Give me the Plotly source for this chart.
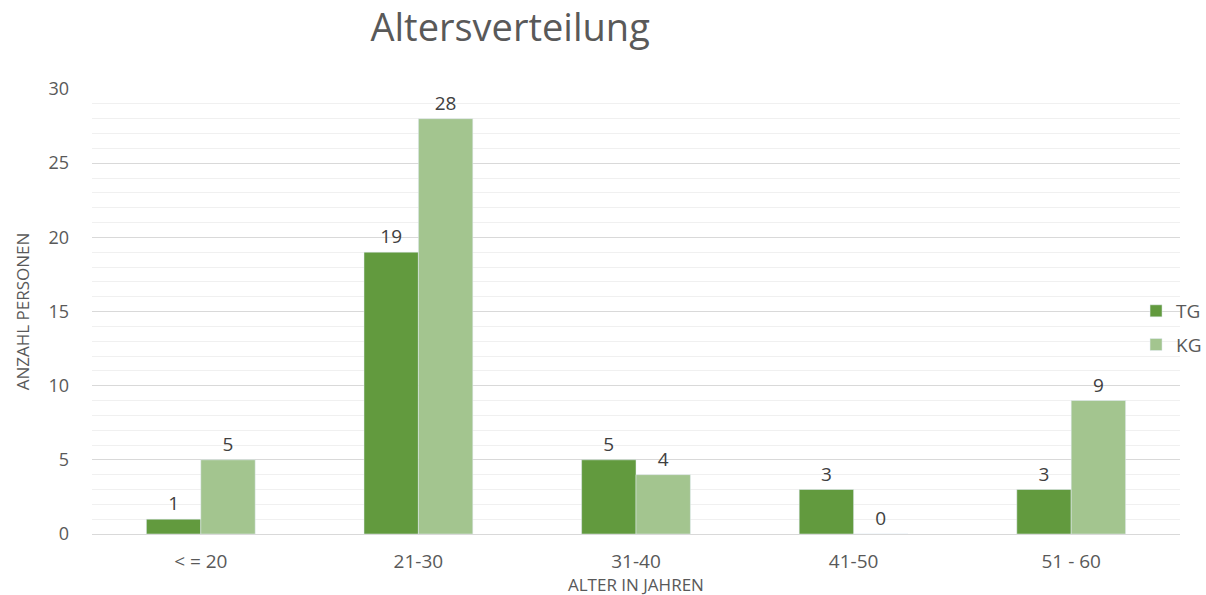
import plotly.graph_objects as go

categories = ["< = 20", "21-30", "31-40", "41-50", "51 - 60"]
tg_values = [1, 19, 5, 3, 3]
kg_values = [5, 28, 4, 0, 9]
series_names = ["TG", "KG"]
y_ticks = [0, 5, 10, 15, 20, 25, 30]
x_title = "ALTER IN JAHREN"
y_title = "ANZAHL PERSONEN"

TXT = "#595959"
FONT = "Open Sans"
fig = go.Figure()
fig.add_trace(go.Bar(x=categories, y=tg_values, name=series_names[0], marker_color="#629A3E",
                     legendgroup="a",
                     text=tg_values, textposition="outside", cliponaxis=False,
                     textfont=dict(size=19, color="#404040", family=FONT)))
fig.add_trace(go.Bar(x=categories, y=kg_values, name=series_names[1], marker_color="#A3C58F",
                     legendgroup="b",
                     text=kg_values, textposition="outside", cliponaxis=False,
                     textfont=dict(size=19, color="#404040", family=FONT)))

fig.update_layout(
    width=1206, height=595,
    margin=dict(l=92, r=26, t=89, b=61, autoexpand=False),
    paper_bgcolor="white", plot_bgcolor="white",
    barmode="group", bargap=0.5, bargroupgap=0,
    title=dict(text="Altersverteilung", x=0.423, xanchor="center", y=0.953, yanchor="middle",
               font=dict(family=FONT, size=38, color=TXT)),
    font=dict(family=FONT, color=TXT, size=16),
    showlegend=True,
    legend=dict(x=0.9596, xanchor="left", y=0.463, yanchor="middle", bgcolor="rgba(0,0,0,0)",
                font=dict(size=19, color=TXT), itemwidth=30, tracegroupgap=6,
                traceorder="grouped"),
    xaxis=dict(showgrid=False, showline=True, linecolor="#D9D9D9", linewidth=1,
               ticks="", ticklabelstandoff=10, tickfont=dict(size=19, color=TXT)),
    yaxis=dict(range=[0, 30], tickvals=y_ticks, showgrid=True, gridcolor="#D9D9D9", gridwidth=1,
               zeroline=False, showline=False, ticks="", ticklabelstandoff=22,
               tickfont=dict(size=18, color=TXT),
               minor=dict(dtick=1, showgrid=True, gridcolor="#F0F0F0", gridwidth=1),
               title=dict(text=y_title, standoff=14,
                          font=dict(size=17, color=TXT, family=FONT))),
    annotations=[dict(text=x_title, xref="paper", yref="paper", x=0.5, y=-0.1135,
                      xanchor="center", yanchor="middle", showarrow=False,
                      font=dict(size=17, color=TXT, family=FONT))],
)
fig.write_html("out.html")
